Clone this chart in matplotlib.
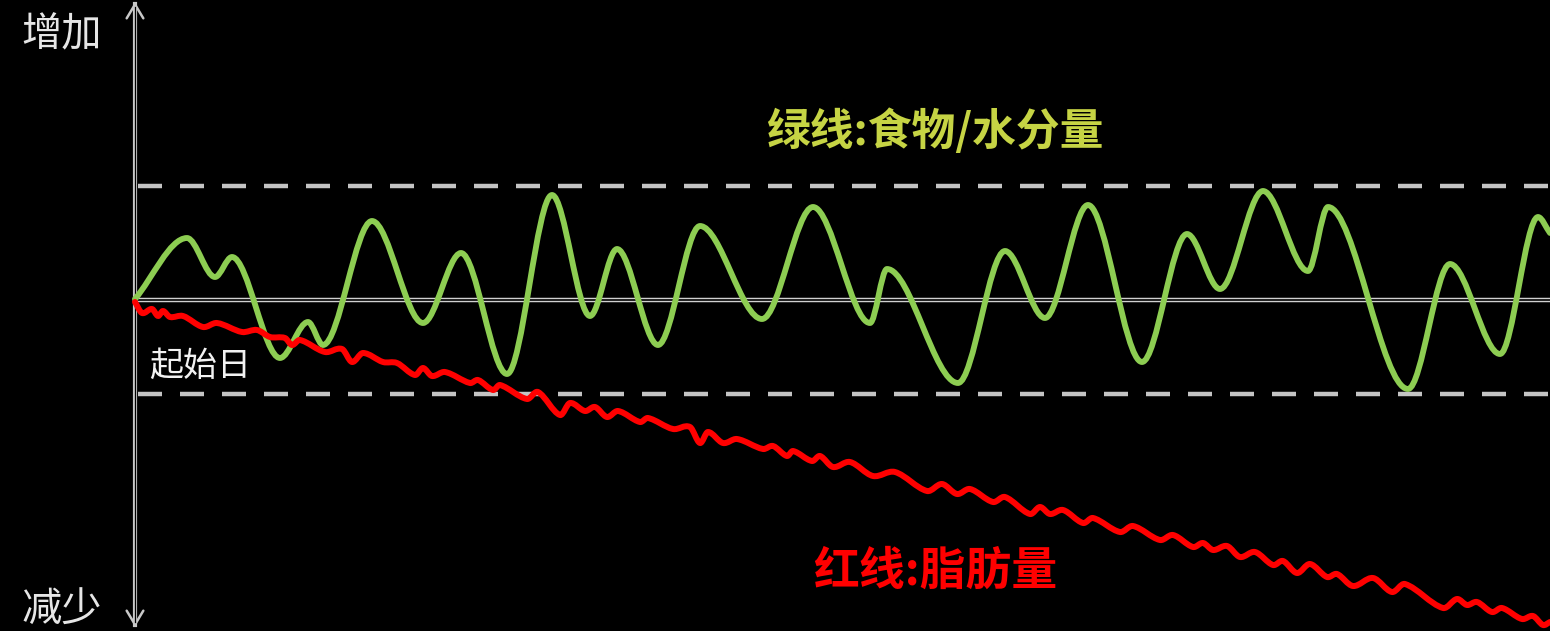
"""sketch: food/water vs body fat over time

green wobbles round the start line, red drifts down
"""
import matplotlib.pyplot as plt
from matplotlib.path import Path
from matplotlib.patches import PathPatch

plt.rcParams['font.family'] = ['Noto Sans CJK SC', 'DejaVu Sans']

### data ###

# green line: food / water weight, turning points only
green_x = [0, 5.2, 8.0, 9.7, 14.5, 17.3, 18.8, 23.7, 28.8, 32.6, 37.2, 41.7,
           45.5, 48.2, 52.3, 56.5, 62.7, 67.8, 73.5, 75.2, 82.3, 87.0, 91.0,
           95.3, 100.7, 105.2, 108.5, 112.8, 117.3, 119.3, 127.3, 131.5,
           136.5, 140.3, 141.5]
green_y = [0.1, 6.2, 2.3, 4.3, -5.8, -2.2, -4.5, 7.9, -2.3, 4.7, -7.4, 10.5,
           -1.6, 5.1, -4.5, 7.4, -1.9, 9.3, -2.3, 3.1, -8.3, 4.9, -1.8,
           9.5, -6.2, 6.6, 1.1, 10.9, 2.9, 9.3, -8.9, 3.6,
           -5.4, 8.3, 6.7]

# red line: body fat
red_x = [0, 0.7, 1.7, 2.3, 2.8, 3.5, 4.8, 6.8, 8.2, 10.7, 12.2, 13.5, 15.0,
         15.7, 16.5, 19.0, 20.7, 21.7, 22.8, 24.8, 26.2, 28.0, 28.8, 29.7,
         31.0, 33.5, 34.3, 35.8, 36.5, 39.2, 40.3, 42.5, 43.5, 45.0, 46.0,
         47.2, 48.3, 50.5, 51.3, 53.8, 55.5, 56.5, 57.3, 58.8, 60.2, 62.8,
         63.8, 65.2, 65.8, 67.7, 68.5, 69.8, 71.5, 73.8, 76.0, 79.2, 80.7,
         82.2, 83.5, 85.8, 87.0, 89.5, 90.5, 91.5, 92.8, 94.8, 95.8, 98.5,
         99.8, 102.5, 103.8, 105.8, 106.8, 107.8, 109.2, 110.5, 112.0, 113.8,
         114.8, 116.2, 117.5, 119.2, 120.2, 121.8, 123.8, 125.7, 127.0,
         130.8, 132.2, 133.2, 134.2, 135.7, 136.7, 138.7, 139.8, 140.8, 141.5]
red_y = [-0.2, -1.3, -0.9, -1.6, -1.1, -1.7, -1.6, -2.7, -2.3, -3.2, -3.0,
         -3.7, -3.8, -4.5, -4.0, -5.2, -4.9, -6.2, -5.3, -6.2, -6.3, -7.5,
         -6.8, -7.6, -7.2, -8.3, -8.0, -9.0, -8.5, -9.9, -9.2, -11.5, -10.3,
         -11.1, -10.7, -11.7, -11.1, -12.2, -11.8, -12.9, -12.7, -14.3,
         -13.2, -14.3, -13.9, -14.9, -14.6, -15.6, -15.1, -16.1, -15.6,
         -16.7, -16.2, -17.6, -17.2, -19.1, -18.4, -19.4, -18.9, -20.2,
         -19.7, -21.4, -20.7, -21.4, -21.0, -22.3, -21.8, -23.2, -22.6,
         -24.0, -23.5, -24.7, -24.3, -25.0, -24.6, -25.7, -25.2, -26.5,
         -26.1, -27.3, -26.4, -27.7, -27.4, -28.6, -27.8, -29.2, -28.4,
         -30.8, -29.9, -30.5, -30.2, -31.2, -30.8, -31.9, -31.6, -32.5, -32.2]

band_top, band_bottom = 11.4, -9.4

labels = {'up': '增加', 'down': '减少', 'start': '起始日',
          'green': '绿线:食物/水分量', 'red': '红线:脂肪量'}


def smooth_path(xs, ys, slopes):
    # cubic pieces through the read points
    verts = [(xs[0], ys[0])]
    codes = [Path.MOVETO]
    for i in range(len(xs) - 1):
        d = (xs[i + 1] - xs[i]) / 3
        verts += [(xs[i] + d, ys[i] + slopes[i] * d),
                  (xs[i + 1] - d, ys[i + 1] - slopes[i + 1] * d),
                  (xs[i + 1], ys[i + 1])]
        codes += [Path.CURVE4] * 3
    return Path(verts, codes)


def chord(xs, ys, i, j):
    return (ys[j] - ys[i]) / (xs[j] - xs[i])


# green: flat at every turning point
g_slopes = [0.0] * len(green_x)
g_slopes[0] = chord(green_x, green_y, 0, 1)
g_slopes[-1] = chord(green_x, green_y, -2, -1)

# red: catmull-rom style
r_slopes = [chord(red_x, red_y, 0, 1)]
for i in range(1, len(red_x) - 1):
    r_slopes.append(chord(red_x, red_y, i - 1, i + 1))
r_slopes.append(chord(red_x, red_y, -2, -1))

### plot ###

fig = plt.figure(figsize=(15.5, 6.31), dpi=100, facecolor='black')
ax = fig.add_axes([0, 0, 1, 1])
ax.set_xlim(-13.5, 141.5)
ax.set_ylim(-33.1, 30.0)
ax.axis('off')

# start line (double look) and the +/- band
ax.plot([0, 141.5], [0, 0], color='#d0d0d0', lw=3.2, zorder=1)
ax.plot([0, 141.5], [0, 0], color='black', lw=1.2, zorder=1)
for yb in (band_top, band_bottom):
    ax.plot([0.3, 141.5], [yb, yb], color='#c4c4c4', lw=3.2,
            linestyle=(0, (5.4, 4.05)), zorder=1)

# vertical arrow
ax.plot([0, 0], [-32.5, 29.6], color='#c8c8c8', lw=3.0, zorder=2)
ax.annotate('', xy=(0, 29.8), xytext=(0, -32.7),
            arrowprops=dict(arrowstyle='<->,head_length=0.5,head_width=0.3',
                            color='#c8c8c8', lw=1.8, mutation_scale=20,
                            shrinkA=0, shrinkB=0), zorder=2)
ax.plot([0, 0], [-32.2, 29.3], color='black', lw=0.9, zorder=2)

ax.add_patch(PathPatch(smooth_path(green_x, green_y, g_slopes), fill=False,
                       edgecolor='#8dcd52', lw=4.2, capstyle='round',
                       joinstyle='round', zorder=3))
ax.add_patch(PathPatch(smooth_path(red_x, red_y, r_slopes), fill=False,
                       edgecolor='#ff0000', lw=4.3, capstyle='round',
                       joinstyle='round', zorder=4))

ax.text(-7.3, 26.5, labels['up'], color='#e6e6e6', fontsize=29,
        ha='center', va='center')
ax.text(-7.3, -31.0, labels['down'], color='#e6e6e6', fontsize=29,
        ha='center', va='center')
ax.text(6.5, -6.6, labels['start'], color='#f2f2f2', fontsize=24.5,
        ha='center', va='center')
ax.text(80.0, 16.9, labels['green'], color='#c6d444', fontsize=31.5,
        fontweight='bold', ha='center', va='center')
ax.text(80.0, -27.2, labels['red'], color='#ff0000', fontsize=33,
        fontweight='bold', ha='center', va='center')

plt.savefig('out.png', dpi=100, facecolor='black')
